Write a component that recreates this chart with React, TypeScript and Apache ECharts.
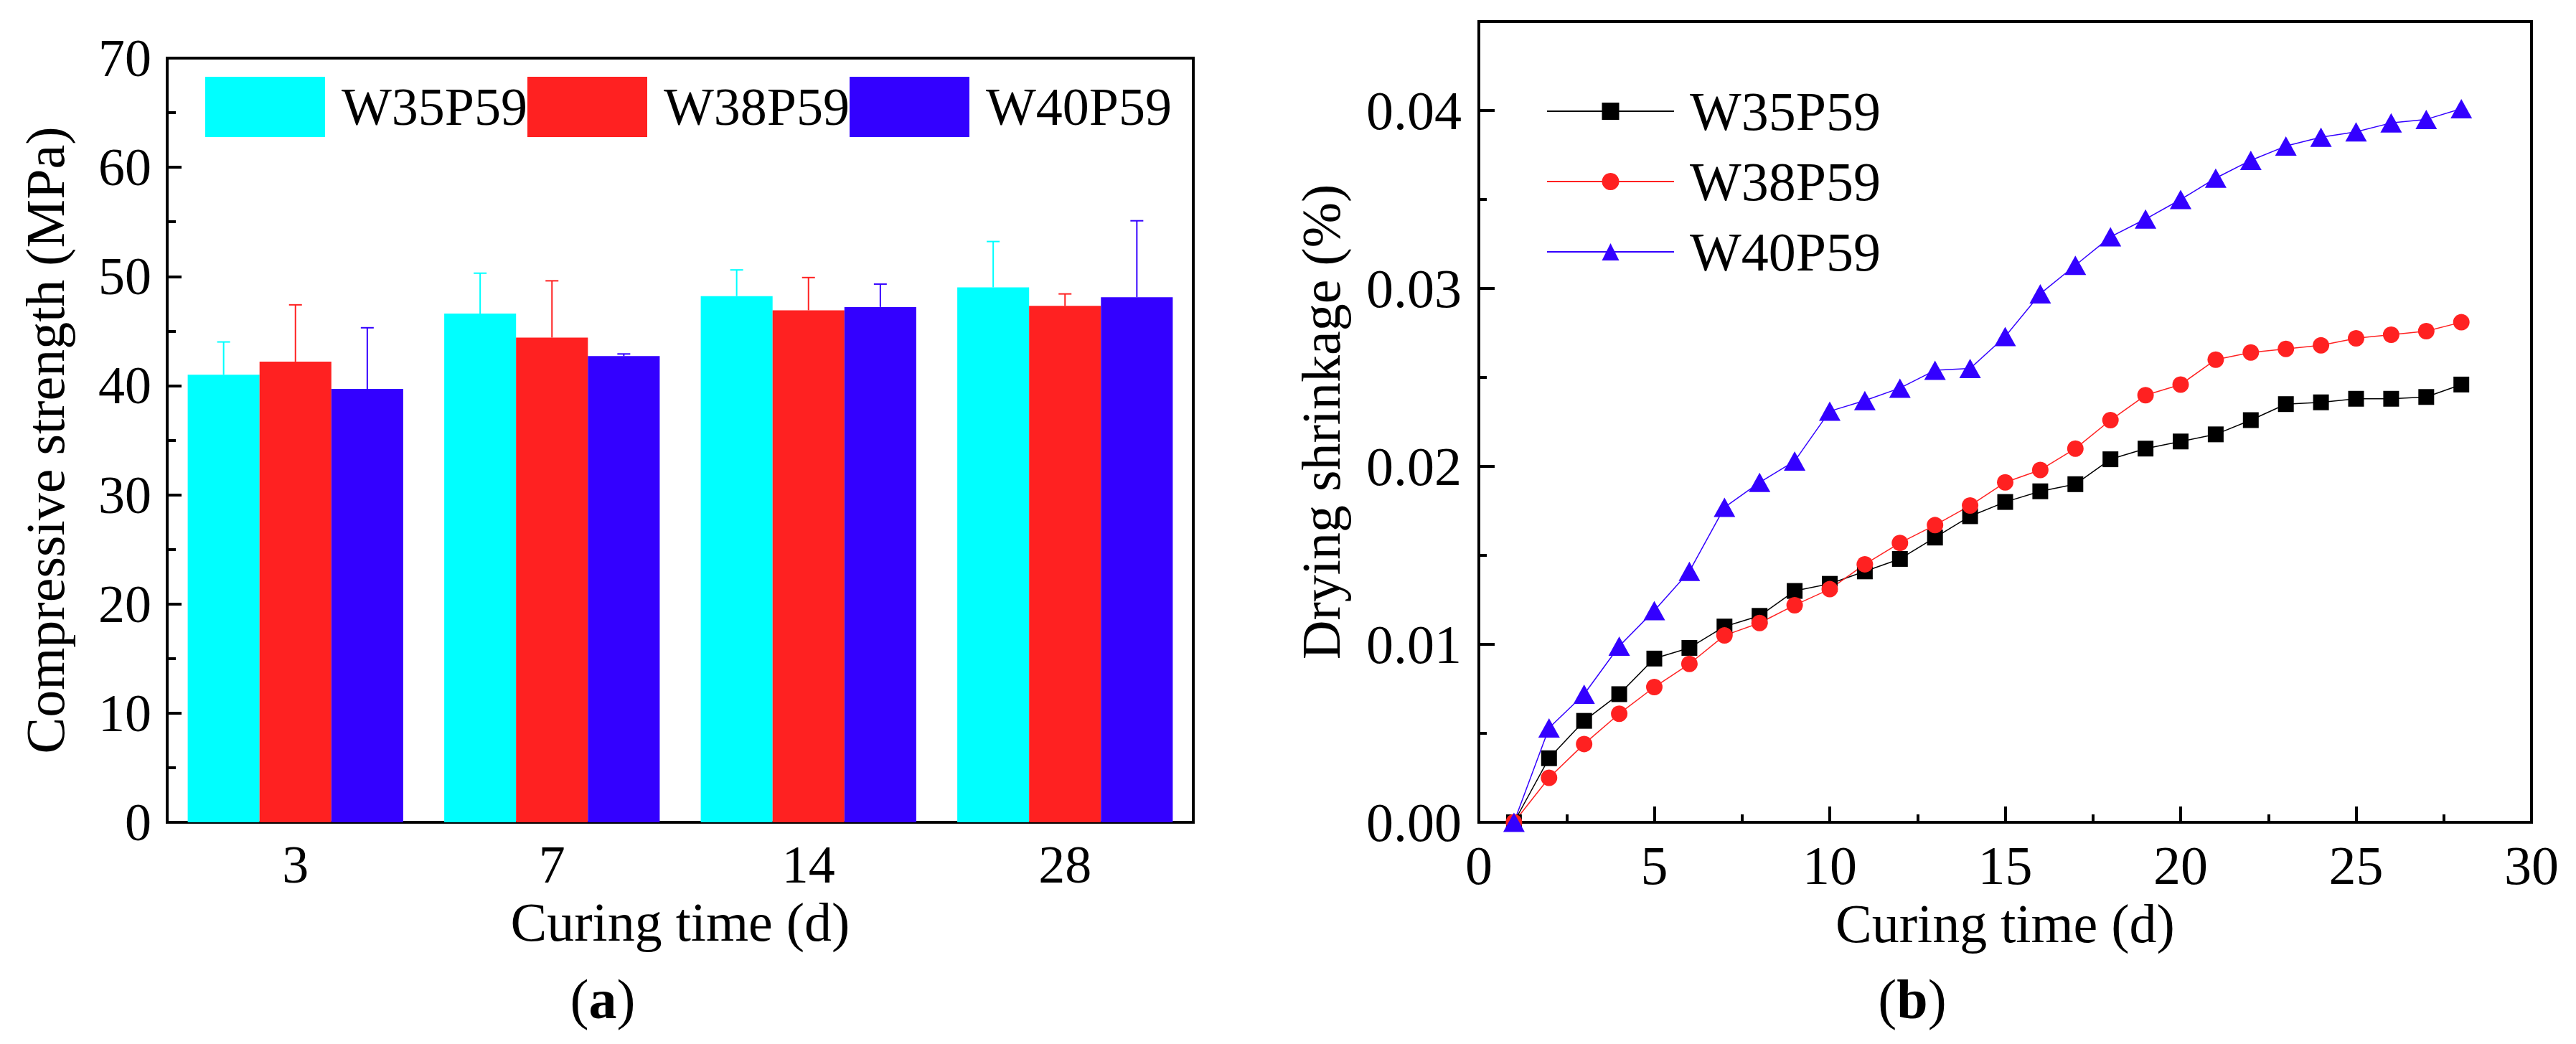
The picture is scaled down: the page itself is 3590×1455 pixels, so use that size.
import React, { useEffect, useRef } from 'react';
import * as echarts from 'echarts';

const FONT = "'Liberation Serif', 'Times New Roman', serif";

// (a) compressive strength
const ages = ['3', '7', '14', '28'];
const w35Strength = [41.0, 46.6, 48.2, 49.0];
const w38Strength = [42.2, 44.4, 46.9, 47.3];
const w40Strength = [39.7, 42.7, 47.2, 48.1];
const w35Sd = [3.0, 3.7, 2.4, 4.2];
const w38Sd = [5.2, 5.2, 3.0, 1.1];
const w40Sd = [5.6, 0.2, 2.1, 7.0];

// (b) drying shrinkage, days 1..28
const days = [1, 2, 3, 4, 5, 6, 7, 8, 9, 10, 11, 12, 13, 14, 15, 16, 17, 18, 19, 20, 21, 22, 23, 24, 25, 26, 27, 28];
const w35Shrink = [0, 0.0036, 0.0057, 0.0072, 0.0092, 0.0098, 0.011, 0.0116, 0.013, 0.0134, 0.0141, 0.0148, 0.016, 0.0172,
  0.018, 0.0186, 0.019, 0.0204, 0.021, 0.0214, 0.0218, 0.0226, 0.0235, 0.0236, 0.0238, 0.0238, 0.0239, 0.0246];
const w38Shrink = [0, 0.0025, 0.0044, 0.0061, 0.0076, 0.0089, 0.0105, 0.0112, 0.0122, 0.0131, 0.0145, 0.0157, 0.0167, 0.0178,
  0.0191, 0.0198, 0.021, 0.0226, 0.024, 0.0246, 0.026, 0.0264, 0.0266, 0.0268, 0.0272, 0.0274, 0.0276, 0.0281];
const w40Shrink = [0, 0.0053, 0.0072, 0.0099, 0.0119, 0.0141, 0.0177, 0.0191, 0.0203, 0.0231, 0.0237, 0.0244, 0.0254, 0.0255,
  0.0273, 0.0297, 0.0313, 0.0329, 0.0339, 0.035, 0.0362, 0.0372, 0.038, 0.0385, 0.0388, 0.0393, 0.0395, 0.0401];

const CYAN = '#00FFFF';
const RED = '#FF2121';
const BLUE = '#3300FF';

const black = { color: '#000', width: 4 };
const txt = { fontFamily: FONT, color: '#000' };
const CAT_GAP = 0.16;

// error bar drawn above the bar, offset = -1/0/1 bar widths from the category centre
function errorSeries(name: string, means: number[], sd: number[], offset: number, color: string) {
  return {
    type: 'custom',
    name: name + ' SD',
    z: 3,
    data: means.map((m, i) => [i, m, m + sd[i]]),
    renderItem: (params: any, api: any) => {
      const band = api.size([1, 0])[0];
      const bw = (band * (1 - CAT_GAP)) / 3;
      const base = api.coord([api.value(0), api.value(1)]);
      const top = api.coord([api.value(0), api.value(2)]);
      const x = base[0] + offset * bw;
      const st = { stroke: color, lineWidth: 2 };
      return {
        type: 'group',
        children: [
          { type: 'line', shape: { x1: x, y1: base[1], x2: x, y2: top[1] }, style: st },
          { type: 'line', shape: { x1: x - 9, y1: top[1], x2: x + 9, y2: top[1] }, style: st },
        ],
      };
    },
  };
}

const panelLabel = (letter: string, x: number) => ({
  type: 'text',
  x,
  y: 1392,
  style: {
    text: `{p|(}{b|${letter}}{p|)}`,
    align: 'center',
    verticalAlign: 'middle',
    rich: {
      p: { fontFamily: FONT, fontSize: 78, fill: '#000' },
      b: { fontFamily: FONT, fontSize: 78, fontWeight: 'bold', fill: '#000' },
    },
  },
});

const leftOption = {
  animation: false,
  backgroundColor: '#fff',
  textStyle: { fontFamily: FONT },
  grid: { left: 233, top: 81, width: 1430, height: 1065, show: true, borderColor: '#000', borderWidth: 4 },
  legend: {
    left: 286,
    top: 107,
    padding: 0,
    itemWidth: 167,
    itemHeight: 84,
    itemGap: 0,
    textStyle: { ...txt, fontSize: 74, padding: [0, 0, 0, 18] },
    data: [
      { name: 'W35P59', icon: 'rect', itemStyle: { color: CYAN } },
      { name: 'W38P59', icon: 'rect', itemStyle: { color: RED } },
      { name: 'W40P59', icon: 'rect', itemStyle: { color: BLUE } },
    ],
  },
  xAxis: [
    {
      type: 'category',
      data: ages,
      axisLine: { lineStyle: black },
      axisTick: { inside: true, alignWithLabel: true, length: 20, lineStyle: black },
      axisLabel: { ...txt, fontSize: 74, margin: 22 },
      name: 'Curing time (d)',
      nameLocation: 'middle',
      nameGap: 100,
      nameTextStyle: { ...txt, fontSize: 76 },
    },
    {
      type: 'category',
      data: ages,
      position: 'bottom',
      axisLine: { show: false },
      axisTick: { inside: true, length: 10, lineStyle: black },
      axisLabel: { show: false },
    },
  ],
  yAxis: {
    type: 'value',
    min: 0,
    max: 70,
    interval: 10,
    splitLine: { show: false },
    axisLine: { show: true, lineStyle: black },
    axisTick: { show: true, inside: true, length: 20, lineStyle: black },
    minorTick: { show: true, splitNumber: 2, length: 12, lineStyle: black },
    axisLabel: { ...txt, fontSize: 74, margin: 22 },
    name: 'Compressive strength (MPa)',
    nameLocation: 'middle',
    nameGap: 132,
    nameTextStyle: { ...txt, fontSize: 76 },
  },
  series: [
    { type: 'bar', name: 'W35P59', data: w35Strength, barGap: '0%', barCategoryGap: '16%', itemStyle: { color: CYAN } },
    { type: 'bar', name: 'W38P59', data: w38Strength, itemStyle: { color: RED } },
    { type: 'bar', name: 'W40P59', data: w40Strength, itemStyle: { color: BLUE } },
    errorSeries('W35P59', w35Strength, w35Sd, -1, CYAN),
    errorSeries('W38P59', w38Strength, w38Sd, 0, RED),
    errorSeries('W40P59', w40Strength, w40Sd, 1, BLUE),
  ],
  graphic: [panelLabel('a', 840)],
};

const lineSeries = (name: string, values: number[], color: string, symbol: string, size: any) => ({
  type: 'line',
  name,
  data: days.map((d, i) => [d, values[i]]),
  symbol,
  symbolSize: size,
  lineStyle: { color, width: 1.5 },
  itemStyle: { color },
});

const rightOption = {
  animation: false,
  backgroundColor: '#fff',
  textStyle: { fontFamily: FONT },
  grid: { left: 228, top: 30, width: 1505, height: 1116, show: true, borderColor: '#000', borderWidth: 4 },
  legend: {
    orient: 'vertical',
    left: 360,
    top: 117,
    padding: 0,
    itemWidth: 177,
    itemHeight: 30,
    itemGap: 22,
    textStyle: { ...txt, fontSize: 76, padding: [0, 0, 0, 17] },
    data: ['W35P59', 'W38P59', 'W40P59'],
  },
  xAxis: {
    type: 'value',
    min: 0,
    max: 30,
    interval: 5,
    splitLine: { show: false },
    axisLine: { lineStyle: black },
    axisTick: { inside: true, length: 22, lineStyle: black },
    minorTick: { show: true, splitNumber: 2, length: 11, lineStyle: black },
    axisLabel: { ...txt, fontSize: 76, margin: 22 },
    name: 'Curing time (d)',
    nameLocation: 'middle',
    nameGap: 100,
    nameTextStyle: { ...txt, fontSize: 76 },
  },
  yAxis: {
    type: 'value',
    min: 0,
    max: 0.045,
    interval: 0.01,
    splitLine: { show: false },
    axisLine: { show: true, lineStyle: black },
    axisTick: { show: true, inside: true, length: 22, lineStyle: black },
    minorTick: { show: true, splitNumber: 2, length: 11, lineStyle: black },
    axisLabel: { ...txt, fontSize: 76, margin: 24, showMaxLabel: false, formatter: (v: number) => v.toFixed(2) },
    name: 'Drying shrinkage (%)',
    nameLocation: 'middle',
    nameGap: 182,
    nameTextStyle: { ...txt, fontSize: 76 },
  },
  series: [
    lineSeries('W35P59', w35Shrink, '#000', 'rect', 22),
    lineSeries('W38P59', w38Shrink, RED, 'circle', 23),
    lineSeries('W40P59', w40Shrink, BLUE, 'triangle', [30, 27]),
  ],
  graphic: [panelLabel('b', 870)],
};

function EChart({ option, style }: { option: any; style: React.CSSProperties }) {
  const ref = useRef<HTMLDivElement>(null);

  useEffect(() => {
    const chart = echarts.init(ref.current!, undefined, { renderer: 'svg' });
    chart.setOption(option);
    return () => {
      chart.dispose();
    };
  }, [option]);

  return <div ref={ref} style={style} />;
}

export default function App() {
  return (
    <div style={{ position: 'absolute', left: 0, top: 0, width: 3590, height: 1455, background: '#fff' }}>
      <EChart option={leftOption} style={{ position: 'absolute', left: 0, top: 0, width: 1795, height: 1455 }} />
      <EChart option={rightOption} style={{ position: 'absolute', left: 1795, top: 0, width: 1795, height: 1455 }} />
    </div>
  );
}
